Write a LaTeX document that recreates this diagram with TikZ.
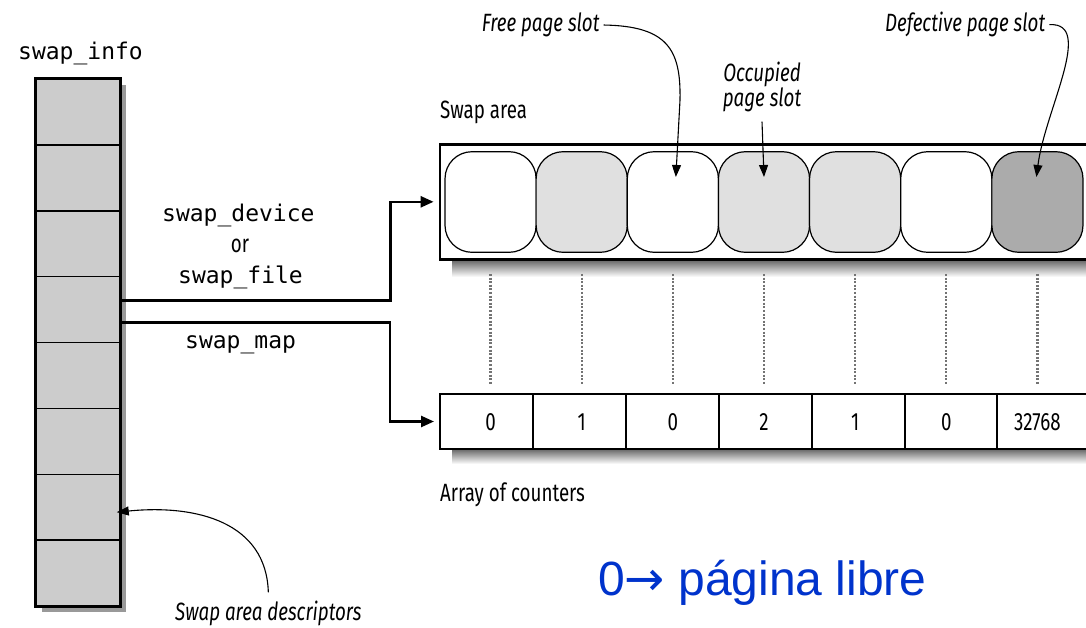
\documentclass[tikz,border=0pt]{standalone}
\usepackage{fontspec}
\usetikzlibrary{arrows.meta,calc}
\newfontfamily\monof{DejaVu Sans Mono}
\newfontfamily\condf[FakeStretch=0.75]{Fira Sans}
\newfontfamily\blueff{Liberation Sans}
\newfontfamily\arrowf{DejaVu Sans}
\definecolor{colfill}{HTML}{CCCCCC}
\definecolor{slotgray}{HTML}{E0E0E0}
\definecolor{slotdark}{HTML}{ABABAB}
\definecolor{bluetxt}{HTML}{0033CC}
\begin{document}
\begin{tikzpicture}[x=1pt,y=-1pt,
  cell/.style={draw, line width=1.5pt, fill=colfill, minimum width=84pt, minimum height=65.875pt, inner sep=0pt},
  slot/.style={draw, line width=1.2pt, rounded corners=27pt, minimum width=91.14pt, minimum height=100.6pt, inner sep=0pt},
  acell/.style={draw, line width=2pt, fill=white, minimum width=92.9pt, minimum height=55pt, inner sep=0pt},
  conn/.style={line width=2.5pt, -{Triangle[length=13pt,width=11pt]}},
  pointer/.style={line width=1.1pt, -{Triangle[length=12pt,width=9pt]}},
  mono/.style={font=\monof\fontsize{23}{23}\selectfont, inner sep=0pt},
  cond/.style={font=\condf\fontsize{25}{25}\selectfont, inner sep=0pt},
  condit/.style={font=\condf\itshape\fontsize{25}{25}\selectfont, inner sep=0pt},
  dots/.style={black!55, line width=2.2pt, dash pattern=on 2pt off 1.6pt}]
\useasboundingbox (0,0) rectangle (1086,627);
\clip (0,0) rectangle (1086,627);
\fill[white] (0,0) rectangle (1086,627);

% swap_info column
\fill[black!40] (42,85) rectangle (126,612);
\foreach \i in {1,...,8}
  \node[cell] (c\i) at (78,{79+65.875*(\i-0.5)}) {};
\draw[line width=2.2pt] (c1.north west) rectangle (c8.south east);
\node[mono, anchor=base west] (linfo) at (18,59.3) {swap\_info};

% swap area
\shade[top color=black!60, bottom color=white] (452,260) rectangle (1092,277);
\node[draw, fill=white, line width=2.8pt, minimum width=652pt, minimum height=115pt, inner sep=0pt] (area) at (766,201.8) {};
\foreach \i/\c in {1/white,2/slotgray,3/white,4/slotgray,5/slotgray,6/white,7/slotdark}
  \node[slot, fill=\c] (s\i) at ({445+91.14*(\i-0.5)},202) {};
\node[cond, anchor=base west] (lswap) at (440,118.3) {Swap area};

% array of counters
\shade[top color=black!60, bottom color=white] (452,449) rectangle (1092,464);
\foreach \i in {1,...,7}
  \node[acell] (a\i) at ({440+92.9*(\i-0.5)},421.5) {};
\foreach \i/\v in {1/0,2/1,3/0,4/2,5/1,6/0,7/32768}
  \node[cond, anchor=base] (n\i) at ({445+91.14*(\i-0.5)},430.7) {\v};
\node[cond, anchor=base west] (larr) at (440,501.7) {Array of counters};

% dotted correspondences
\foreach \i in {1,...,7}
  \draw[dots] ($(s\i.south)+(0,21)$) -- ($(s\i.south |- a\i.north)+(0,-9)$);

% connectors from swap_info
\node[mono, anchor=base west] (ldev) at (162,221.7) {swap\_device};
\node[cond, anchor=base] (lor) at (240,252) {or};
\node[mono, anchor=base west] (lfile) at (178,283.3) {swap\_file};
\node[mono, anchor=base west] (lmap) at (185,348.3) {swap\_map};
\draw[conn] ([yshift=9pt]c4.east) -| ($(area.west)+(-48,0)$) -- ($(area.west)+(-5,0)$);
\draw[conn] ([yshift=-12.7pt]c4.east) -| ($(a1.west)+(-49,0)$) -- ($(a1.west)+(-5,0)$);

% pointer labels
\node[condit, anchor=base west] (lfree) at (481.7,31.7) {Free page slot};
\coordinate (t3) at ($(s3.center)+(3,-25)$);
\draw[pointer] ([xshift=4pt]lfree.east) .. controls (668,26) and (681,50) .. (680,100) -- (t3);

\node[condit, align=center] (locc) at (762,86.5) {Occupied\\page slot};
\coordinate (t4) at ($(s4.center)+(0,-25)$);
\draw[pointer] ([yshift=-10pt]locc.south) -- (t4);

\node[condit, anchor=base west] (ldef) at (885,31.7) {Defective page slot};
\coordinate (t7) at ($(s7.center)+(-1,-25)$);
\draw[pointer] ([xshift=4pt]ldef.east) .. controls (1095,22) and (1045,110) .. (t7);

\node[condit, anchor=base west] (ldesc) at (175,620) {Swap area descriptors};
\coordinate (t0) at ($(c7.east)+(-4,5)$);
\draw[pointer] ($(ldesc.north)+(0,-8)$) .. controls +(-2,-70) and +(80,-8) .. (t0);

% note
\node[anchor=base west, inner sep=0pt, text=bluetxt, font=\blueff\fontsize{48}{48}\selectfont] (lnote) at (598,595) {0{\arrowf →} página libre};
\end{tikzpicture}
\end{document}
